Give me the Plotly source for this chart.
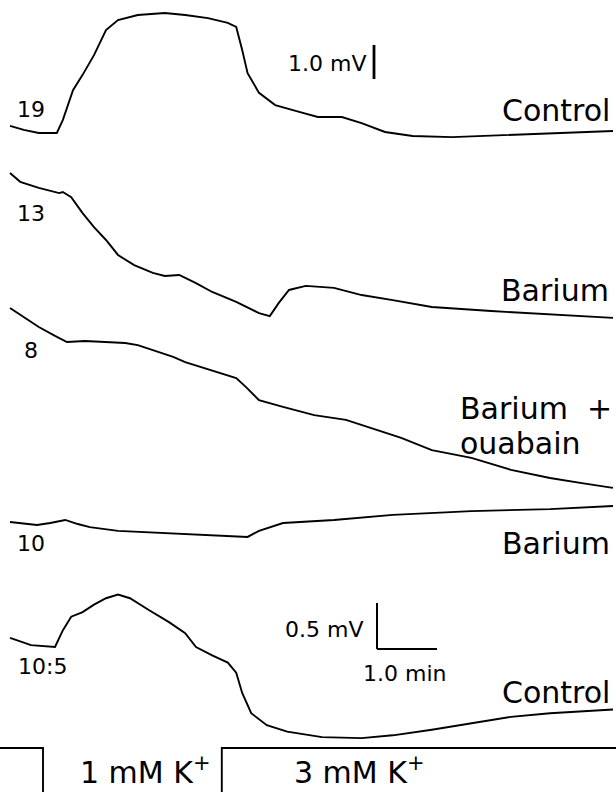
import plotly.graph_objects as go

# ---- data: time (min) and potential change (mV) for each recording ----
ctrl1_t = [0, 0.23, 0.48, 0.78, 0.88, 1.05, 1.21, 1.4, 1.6, 1.8, 2.13, 2.58, 2.92, 3.3, 3.63, 3.77,
           3.87, 3.96, 4.15, 4.42, 4.82, 5.13, 5.53, 5.86, 6.25, 6.71, 7.37, 8.35, 9.33, 10.05]
ctrl1_v = [0.21, 0.09, 0, 0, 0.38, 1.26, 1.71, 2.29, 3.03, 3.32, 3.47, 3.53, 3.47, 3.38, 3.24, 3.12,
           2.44, 1.76, 1.18, 0.82, 0.62, 0.47, 0.47, 0.29, 0.03, -0.09, -0.12, -0.06, 0, 0.06]

ba1_t = [0, 0.17, 0.48, 0.82, 0.88, 1.02, 1.21, 1.4, 1.6, 1.8, 2.07, 2.38, 2.58, 2.82, 3.1, 3.37,
         3.77, 4.15, 4.33, 4.48, 4.65, 4.93, 5.4, 5.86, 6.38, 7.03, 8.02, 9.0, 10.05]
ba1_v = [0, -0.26, -0.44, -0.59, -0.56, -0.71, -1.18, -1.59, -1.97, -2.41, -2.71, -2.94, -3.03, -3.0,
         -3.24, -3.5, -3.79, -4.12, -4.21, -3.82, -3.44, -3.32, -3.38, -3.59, -3.74, -3.94, -4.06,
         -4.15, -4.26]

bao_t = [0, 0.25, 0.48, 0.75, 0.95, 1.25, 1.53, 1.92, 2.13, 2.45, 2.72, 2.92, 3.43, 3.77, 3.93, 4.15,
         4.55, 5.07, 5.6, 5.98, 6.52, 7.03, 7.69, 8.35, 9.0, 9.53, 10.05]
bao_v = [0, -0.29, -0.56, -0.82, -1.0, -0.97, -1.0, -1.03, -1.09, -1.29, -1.44, -1.59, -1.88, -2.06,
         -2.32, -2.71, -2.91, -3.15, -3.29, -3.5, -3.82, -4.18, -4.41, -4.76, -5.0, -5.15, -5.29]

ba2_t = [0, 0.25, 0.45, 0.67, 0.92, 1.13, 1.33, 1.8, 2.45, 3.1, 3.96, 4.15, 4.55, 5.4, 6.38, 7.69,
         9.0, 10.05]
ba2_v = [0, -0.06, -0.09, -0.03, 0.06, -0.06, -0.15, -0.26, -0.32, -0.38, -0.44, -0.26, -0.03, 0.06,
         0.21, 0.32, 0.38, 0.47]

ctrl2_t = [0, 0.35, 0.75, 0.83, 0.88, 1.02, 1.21, 1.4, 1.6, 1.8, 2.0, 2.32, 2.65, 2.92, 3.1, 3.37,
           3.63, 3.77, 3.87, 4.02, 4.28, 4.62, 5.2, 5.86, 6.38, 7.03, 7.69, 8.35, 9.0, 10.05]
ctrl2_v = [0.1, 0.02, 0, 0.11, 0.18, 0.33, 0.38, 0.46, 0.53, 0.57, 0.53, 0.4, 0.27, 0.15, 0, -0.09,
           -0.17, -0.28, -0.5, -0.72, -0.85, -0.92, -0.98, -0.99, -0.96, -0.9, -0.83, -0.76, -0.72,
           -0.68]

trace_names = ["Control", "Barium", "Barium + ouabain", "Barium", "Control"]
trace_ids = ["19", "13", "8", "10", "10:5"]

# K+ protocol (step): time of changes and concentration (mM)
k_t = [-0.17, 0.55, 0.55, 3.53, 3.53, 10.1]
k_c = [3, 3, 1, 1, 3, 3]
k_labels = ["1 mM K<sup>+</sup>", "3 mM K<sup>+</sup>"]

# ---- presentation (offsets / gains in screen units) ----
series = [(ctrl1_t, ctrl1_v, 133, 34), (ba1_t, ba1_v, 173, 34), (bao_t, bao_v, 308, 34),
          (ba2_t, ba2_v, 522, 34), (ctrl2_t, ctrl2_v, 647, 92)]

X0 = 10.0   # px of t = 0
PPM = 60.0  # px per min
LW = 1.9

fig = go.Figure()
for (t, v, off, g), name in zip(series, trace_names):
    fig.add_trace(go.Scatter(x=t, y=[off - g * vv for vv in v], mode="lines", name=name,
                             line=dict(color="black", width=LW), showlegend=False))

k_y = [748 if c == 3 else 800 for c in k_c]
fig.add_trace(go.Scatter(x=k_t, y=k_y, mode="lines", line=dict(color="black", width=LW),
                         showlegend=False))

def tx(px):
    return (px - X0) / PPM

FONT = "DejaVu Sans, Liberation Sans, Arial, sans-serif"
BIG, SMALL = 30, 22
ann = []
def label(text, px, py, size, xanchor="center"):
    ann.append(dict(x=tx(px), y=py, text=text, showarrow=False, xanchor=xanchor, yanchor="middle",
                    font=dict(family=FONT, size=size, color="black")))

label(trace_ids[0], 31, 109, SMALL)
label(trace_ids[1], 31, 213, SMALL)
label(trace_ids[2], 31, 350, SMALL)
label(trace_ids[3], 31, 543, SMALL)
label(trace_ids[4], 42, 666, SMALL)
label("Control", 612, 110, BIG, "right")
label("Barium", 611, 290, BIG, "right")
label("Barium", 458, 408, BIG, "left")
label("+", 614, 408, BIG, "right")
label("ouabain", 458, 443, BIG, "left")
label("Barium", 612, 543, BIG, "right")
label("Control", 612, 692, BIG, "right")
label("1.0 mV", 368, 63, SMALL, "right")
label("0.5 mV", 365, 629, SMALL, "right")
label("1.0 min", 404, 673, SMALL)
label(k_labels[0], 145, 770, BIG)
label(k_labels[1], 359, 770, BIG)

shapes = []
def seg(x1, y1, x2, y2, w=2):
    shapes.append(dict(type="line", x0=tx(x1), y0=y1, x1=tx(x2), y1=y2,
                       line=dict(color="black", width=w)))

# scale bars
seg(374, 45, 374, 79, 2.8)
seg(377, 603, 377, 649, 2)
seg(377, 649, 437, 649, 2)

fig.update_layout(
    width=616, height=792, margin=dict(l=0, r=0, t=0, b=0),
    paper_bgcolor="white", plot_bgcolor="white",
    xaxis=dict(range=[tx(0), tx(616)], visible=False, fixedrange=True),
    yaxis=dict(range=[792, 0], visible=False, fixedrange=True),
    annotations=ann, shapes=shapes,
)
fig.write_html("out.html", config={"displayModeBar": False},
               post_script="document.body.style.margin='0';document.body.style.overflow='hidden';")
